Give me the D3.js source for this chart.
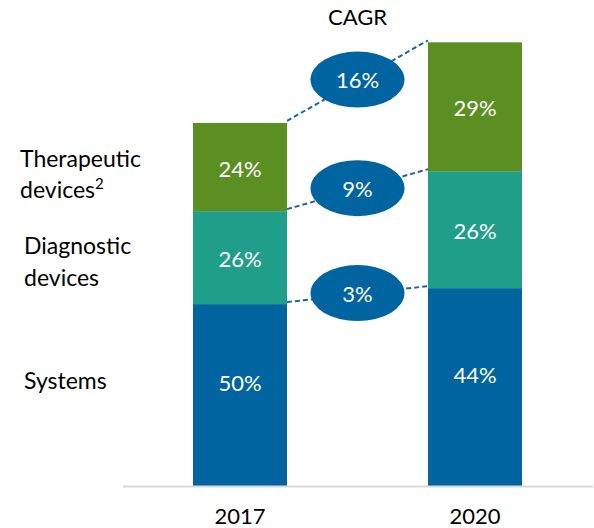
<!DOCTYPE html>
<html>
<head>
<meta charset="utf-8">
<script src="https://cdn.jsdelivr.net/npm/d3@7"></script>
<style>
  body { margin: 0; background: #fff; }
  svg { display: block; font-family: Lato, "Open Sans", sans-serif; }
</style>
</head>
<body>
<svg id="chart" width="594" height="528"></svg>
<script>
// market size index, 2017 total = 100
const years = ["2017", "2020"];
const segments = ["Systems", "Diagnostic devices", "Therapeutic devices"];
const systems = [50.1, 54.5];
const diagnostic = [25.6, 32.2];
const therapeutic = [24.3, 35.5];
const shareLabels = [
  ["50%", "26%", "24%"],
  ["44%", "26%", "29%"]
];
const cagrLabels = ["3%", "9%", "16%"];

const colors = ["#0064a0", "#1f9e89", "#5b8f22"];

const svg = d3.select("#chart");

const x = d3.scaleBand()
  .domain(years)
  .range([122.5, 592.5])
  .paddingInner(0.6)
  .paddingOuter(0.3);

const y = d3.scaleLinear()
  .domain([0, 130])
  .range([486, 14]);

const table = years.map((yr, i) => ({
  year: yr,
  Systems: systems[i],
  "Diagnostic devices": diagnostic[i],
  "Therapeutic devices": therapeutic[i]
}));

const stacked = d3.stack().keys(segments)(table);

// bars
const layers = svg.selectAll("g.layer")
  .data(stacked)
  .enter()
  .append("g")
  .attr("class", "layer")
  .attr("fill", (d, i) => colors[i]);

layers.selectAll("rect")
  .data(d => d)
  .enter()
  .append("rect")
  .attr("x", d => x(d.data.year))
  .attr("y", d => y(d[1]))
  .attr("width", x.bandwidth())
  .attr("height", d => y(d[0]) - y(d[1]));

// share labels (bottom one sits a bit above the middle, like the original)
stacked.forEach((layer, si) => {
  layer.forEach((d, yi) => {
    const mid = (y(d[0]) + y(d[1])) / 2;
    svg.append("text")
      .attr("x", x(d.data.year) + x.bandwidth() / 2)
      .attr("y", si === 0 ? mid - 12 : mid + 2)
      .attr("dy", "0.35em")
      .attr("text-anchor", "middle")
      .attr("fill", "#fff")
      .style("font-size", "22px")
      .text(shareLabels[yi][si]);
  });
});

// axis line
const xAxis = svg.append("g")
  .attr("transform", `translate(0,${y(0)})`)
  .call(d3.axisBottom(x).tickSize(0).tickPadding(22));
xAxis.select(".domain").attr("stroke", "#d9d9d9").attr("stroke-width", 2);
xAxis.selectAll("text")
  .attr("fill", "#000")
  .style("font-size", "22px")
  .style("font-family", "Lato, sans-serif");

// CAGR connectors
const x0 = x(years[0]) + x.bandwidth();
const x1 = x(years[1]);
stacked.forEach((layer, si) => {
  const ya = y(layer[0][1]);
  const yb = y(layer[1][1]);
  svg.append("line")
    .attr("x1", x0).attr("y1", ya - 2)
    .attr("x2", x1).attr("y2", yb - 2)
    .attr("stroke", "#1a66a8")
    .attr("stroke-width", 2)
    .attr("stroke-dasharray", "5,3");
  const cx = (x0 + x1) / 2;
  const cy = (ya + yb) / 2 - 3;
  svg.append("ellipse")
    .attr("cx", cx).attr("cy", cy)
    .attr("rx", 47).attr("ry", 28)
    .attr("fill", "#0064a0");
  svg.append("text")
    .attr("x", cx).attr("y", cy + 1)
    .attr("dy", "0.35em")
    .attr("text-anchor", "middle")
    .attr("fill", "#fff")
    .style("font-size", "22px")
    .text(cagrLabels[si]);
});

svg.append("text")
  .attr("x", (x0 + x1) / 2)
  .attr("y", 25)
  .attr("text-anchor", "middle")
  .style("font-size", "22px")
  .text("CAGR");

// category labels on the left, next to the 2017 bar
const left = stacked.map(layer => (y(layer[0][0]) + y(layer[0][1])) / 2);

svg.append("text")
  .attr("x", 24).attr("y", left[0] - 6)
  .style("font-size", "23px")
  .text("Systems");

const diagLabel = svg.append("text")
  .attr("x", 24).attr("y", left[1] - 4)
  .style("font-size", "23px");
diagLabel.append("tspan").attr("x", 24).text("Diagnostic");
diagLabel.append("tspan").attr("x", 24).attr("dy", 32).text("devices");

const therLabel = svg.append("text")
  .attr("x", 20).attr("y", left[2])
  .style("font-size", "23px");
therLabel.append("tspan").attr("x", 20).text("Therapeutic");
therLabel.append("tspan").attr("x", 20).attr("dy", 31).text("devices");
therLabel.append("tspan")
  .attr("dy", -9)
  .style("font-size", "15px")
  .text("2");
</script>
</body>
</html>
